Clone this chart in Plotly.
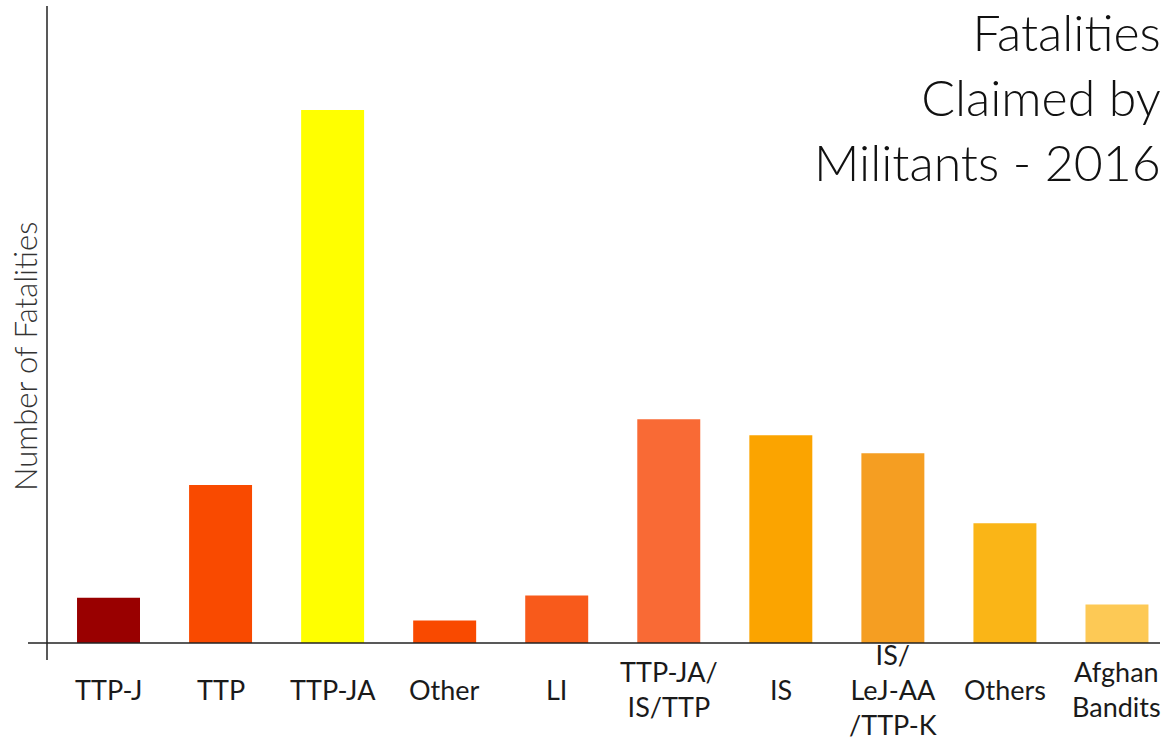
import plotly.graph_objects as go

categories = ["TTP-J", "TTP", "TTP-JA", "Other", "LI", "TTP-JA/<br>IS/TTP", "IS",
              "IS/<br>LeJ-AA<br>/TTP-K", "Others", "Afghan<br>Bandits"]
fatalities = [20, 70, 236, 10, 21, 99, 92, 84, 53, 17]
bar_colors = ["#990000", "#F94A00", "#FFFF00", "#F94A00", "#F85A1B", "#F96A35",
              "#FBA400", "#F59E22", "#FAB517", "#FDC955"]
title_text = "Fatalities<br>Claimed by<br>Militants - 2016"
y_title = "Number of Fatalities"

W, H = 1173, 740
ML, MR, MT, MB = 47, 0, 6, 97
PW, PH = W - ML - MR, H - MT - MB
FONT = "Lato"

def px_x(p):
    return (p - ML) / PW

def px_y(p):
    return (H - MB - p) / PH

xs = list(range(len(categories)))
fig = go.Figure(go.Bar(x=xs, y=fatalities, marker=dict(color=bar_colors, line=dict(width=0))))

annotations = []
for i, lab in enumerate(categories):
    annotations.append(dict(x=i, xref="x", y=px_y(689), yref="paper", text=lab,
                            showarrow=False, xanchor="center", yanchor="middle", align="center",
                            borderpad=0,
                            font=dict(family=FONT, size=27, color="#1a1a1a", weight=400)))
annotations.append(dict(x=px_x(1162), xref="paper", y=px_y(1), yref="paper", text=title_text,
                        showarrow=False, xanchor="right", yanchor="top", align="right",
                        borderpad=0,
                        font=dict(family=FONT, size=50, color="#111111", weight=300)))
annotations.append(dict(x=px_x(25), xref="paper", y=px_y(357), yref="paper", text=y_title,
                        textangle=-90, showarrow=False, xanchor="center", yanchor="middle",
                        font=dict(family=FONT, size=31, color="#333333", weight=300)))

shapes = [
    dict(type="line", xref="paper", yref="paper", x0=px_x(28), x1=px_x(1160),
         y0=0, y1=0, line=dict(color="#222222", width=1.5)),
    dict(type="line", xref="paper", yref="paper", x0=0, x1=0,
         y0=px_y(660), y1=px_y(6), line=dict(color="#222222", width=1.5)),
]

fig.update_layout(
    width=W, height=H,
    margin=dict(l=ML, r=MR, t=MT, b=MB, pad=0),
    plot_bgcolor="white", paper_bgcolor="white",
    showlegend=False, bargap=0.438,
    xaxis=dict(range=[-0.549, 9.5], showticklabels=False, showgrid=False, zeroline=False,
               showline=False, ticks=""),
    yaxis=dict(range=[0, 282], showticklabels=False, showgrid=False, zeroline=False,
               showline=False, ticks=""),
    annotations=annotations, shapes=shapes,
)

fig.write_html("out.html", config={"displayModeBar": False},
               post_script="document.body.style.margin='0';document.body.style.overflow='hidden';")
